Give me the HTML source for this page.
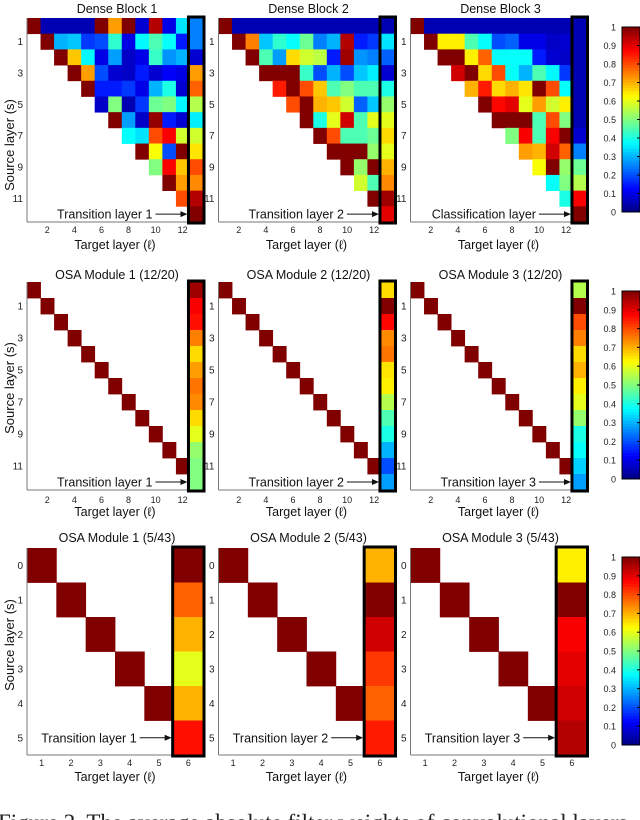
<!DOCTYPE html>
<html><head><meta charset="utf-8">
<style>
html,body{margin:0;padding:0;background:#fff;overflow:hidden}
svg{display:block;font-family:"Liberation Sans",sans-serif}
</style></head>
<body>
<svg id="fig" width="640" height="820" viewBox="0 0 640 820" xmlns="http://www.w3.org/2000/svg">
<text x="-2" y="830" font-family="Liberation Serif, serif" font-size="23" fill="#222">Figure 2. The average absolute filter weights of convolutional layers</text>
</svg>
<script>
// Dense blocks: row s holds cells for target columns s+1..13 (last = transition/classification)
const db1 = [
 [1,.05,.05,.05,.05,1,.72,1,.08,.95,.1,.35,.25],
 [1,.3,.32,.18,.2,.42,.1,.37,.45,.38,.15,.25],
 [1,.68,.37,.1,.28,.07,.1,.43,.27,.3,.08],
 [1,.72,.2,.08,.07,.15,.08,.12,.1,.72],
 [1,.15,.15,.18,.1,.3,.4,.08,.78],
 [.07,.5,.05,.18,.48,.5,.37,.55],
 [1,.28,.07,.98,.15,.08,.36],
 [.38,.35,.8,.88,.58,.58],
 [1,.62,.2,1,.65],
 [.5,.88,.68,.8],
 [1,.72,.74],
 [.8,.95],
 [1]
];
const db2 = [
 [1,.05,.05,.05,.05,.05,.05,.05,.05,.05,.05,.05,.05],
 [1,.75,.32,.42,.38,.48,.25,.3,.95,.15,.18,.35],
 [1,.45,.28,.66,.58,.56,.15,.97,.27,.25,.22],
 [1,1,1,.43,.2,.3,.2,.32,.36,.08],
 [.85,1,.8,.68,.45,.5,.45,.45,.4],
 [.8,1,.7,.68,.58,.22,.32,.52],
 [1,.4,.6,.92,.45,.6,.6],
 [1,.8,.45,.45,.48,.66],
 [1,1,1,.52,.6],
 [1,.52,1,.7],
 [.58,.45,.74],
 [1,.97],
 [.9]
];
const db3 = [
 [1,.05,.05,.05,.05,.05,.05,.05,.05,.05,.05,.05,.05],
 [1,.64,.64,.45,.38,.2,.22,.1,.1,.07,.08,.05],
 [1,1,.64,.78,.38,.38,.38,.15,.08,.07,.05],
 [.92,1,.66,.8,.38,.3,.45,.37,.18,.05],
 [.7,.85,.66,.7,.65,1,.8,.38,.05],
 [1,.87,.9,.6,.72,.58,.64,.05],
 [1,1,1,.45,.8,.5,.05],
 [.5,.88,.45,.88,1,.08],
 [.72,.7,.92,.78,.25],
 [.62,1,.52,.48],
 [.38,.5,.55],
 [.4,.88],
 [1]
];
// OSA modules: transition-layer column values per source layer
const osa12a = [.97,.88,.86,.75,.66,.72,.76,.74,.66,.6,.52,.5,.5];
const osa12b = [.66,1,.87,.74,.76,.65,.64,.55,.45,.4,.3,.2,.28];
const osa12c = [.55,1,.8,.75,.66,.7,.64,.6,.52,.4,.38,.33,.28];
const osa5a = [1,.78,.7,.6,.7,.86];
const osa5b = [.7,1,.92,.82,.78,.85];
const osa5c = [.64,1,.88,.9,.92,.95];
const titles = [["Dense Block 1","Dense Block 2","Dense Block 3"],
 ["OSA Module 1 (12/20)","OSA Module 2 (12/20)","OSA Module 3 (12/20)"],
 ["OSA Module 1 (5/43)","OSA Module 2 (5/43)","OSA Module 3 (5/43)"]];
const transLabels = [["Transition layer 1","Transition layer 2","Classification layer"],
 ["Transition layer 1","Transition layer 2","Transition layer 3"],
 ["Transition layer 1","Transition layer 2","Transition layer 3"]];
const cbTicks = [0,.1,.2,.3,.4,.5,.6,.7,.8,.9,1];

const NS="http://www.w3.org/2000/svg";
const svg=document.getElementById('fig');
function mk(tag,attrs,parent){const e=document.createElementNS(NS,tag);for(const k in attrs)e.setAttribute(k,attrs[k]);(parent||svg).appendChild(e);return e;}
function cl(x){return Math.max(0,Math.min(1,x));}
function jet(v){const r=cl(1.5-Math.abs(4*v-3)),g=cl(1.5-Math.abs(4*v-2)),b=cl(1.5-Math.abs(4*v-1));return `rgb(${Math.round(r*255)},${Math.round(g*255)},${Math.round(b*255)})`;}

const lefts=[27,218.5,410.5];
const rows=[{top:18,h:204,tickY:233,xl:249,ty:13,cb:[27,212],src:145},
            {top:282,h:208,tickY:503,xl:516,ty:279,cb:[291,479],src:388},
            {top:548,h:207,tickY:766,xl:781,ty:542,cb:[557,745],src:645}];
const W=176;

function panel(ri,pi,n,cellVal){
  const R=rows[ri],L=lefts[pi],cw=W/n,rh=R.h/n;
  const g=mk('g',{});
  
  
  const xS=c=>L+(c-1)*cw, yS=s=>R.top+s*rh;
  for(let s=0;s<n;s++)for(let c=1;c<=n;c++){
    const v=cellVal(s,c); if(v===null)continue;
    const r=mk('rect',{x:xS(c),y:yS(s),width:cw+0.4,height:rh+0.4,fill:jet(v)},g);
    
    
  }
  mk('line',{x1:L,y1:R.top,x2:L,y2:R.top+R.h,stroke:'#777','stroke-width':1},g);
  mk('line',{x1:L,y1:R.top+R.h,x2:L+W,y2:R.top+R.h,stroke:'#777','stroke-width':1},g);
  const b=mk('rect',{x:xS(n)-1,y:R.top-1,width:cw+2,height:R.h+2,fill:'none',stroke:'#000','stroke-width':3},g);
  
  
  const step=n>6?2:1;
  for(let c=step;c<=n;c+=step){ if(c===n && n>6) continue;
    const t=mk('text',{x:xS(c)+cw/2,y:R.tickY,'font-size':9,'text-anchor':'middle',fill:'#222'},g);t.textContent=c;
    }
  for(let s=(n>6?1:0);s<n;s+=step){
    const t=mk('text',{x:L-4,y:yS(s)+rh/2+3.5,'font-size':10,'text-anchor':'end',fill:'#222'},g);t.textContent=s;
    }
  const tt=mk('text',{x:L+W/2+2,y:R.ty,'font-size':12.5,'text-anchor':'middle',fill:'#111'},g);tt.textContent=titles[ri][pi];
  
  const xl=mk('text',{x:L+W/2,y:R.xl,'font-size':12.5,'text-anchor':'middle',fill:'#111'},g);xl.textContent='Target layer (ℓ)';
  
  const ay=yS(n-1)+rh/2, ax=xS(n)-1;
  const tl=mk('text',{x:ax-36,y:ay+4.5,'font-size':12.5,'text-anchor':'end',fill:'#111'},g);tl.textContent=transLabels[ri][pi];
  
  mk('line',{x1:ax-33,y1:ay,x2:ax-3,y2:ay,stroke:'#111','stroke-width':1},g);
  mk('path',{d:`M${ax-1},${ay} l-7,-3 l0,6 z`,fill:'#111'},g);
  if(pi===0){
    const st=mk('text',{x:0,y:0,'font-size':13,'text-anchor':'middle',fill:'#111',transform:`translate(14,${R.src}) rotate(-90)`},g);
    st.textContent='Source layer (s)';
    
  }
}
function colorbar(ri){
  const R=rows[ri],y0=R.cb[0],y1=R.cb[1],x=622,w=18;
  const g=mk('g',{});
  
  
  const N=64,h=(y1-y0)/N;
  for(let i=0;i<N;i++)mk('rect',{x:x,y:y1-(i+1)*h,width:w,height:h+0.5,fill:jet((i+0.5)/N)},g);
  mk('rect',{x:x,y:y0,width:w,height:y1-y0,fill:'none',stroke:'#000','stroke-width':1},g);
  cbTicks.forEach(v=>{const yy=y1-v*(y1-y0);
    const t=mk('text',{x:x-6,y:yy+3.5,'font-size':9,'text-anchor':'end',fill:'#222'},g);t.textContent=v===0||v===1?String(v):v.toFixed(1);
    
    mk('line',{x1:x+w-3,y1:yy,x2:x+w,y2:yy,stroke:'#000'},g);});
}
const dbs=[db1,db2,db3];
dbs.forEach((m,pi)=>panel(0,pi,13,(s,c)=>{const i=c-1-s;return i>=0&&i<m[s].length?m[s][i]:null;}));
[osa12a,osa12b,osa12c].forEach((t,pi)=>panel(1,pi,13,(s,c)=>c===13?t[s]:(c===s+1?1:null)));
[osa5a,osa5b,osa5c].forEach((t,pi)=>panel(2,pi,6,(s,c)=>c===6?t[s]:(c===s+1?1:null)));
[0,1,2].forEach(colorbar);
</script>
</body></html>
